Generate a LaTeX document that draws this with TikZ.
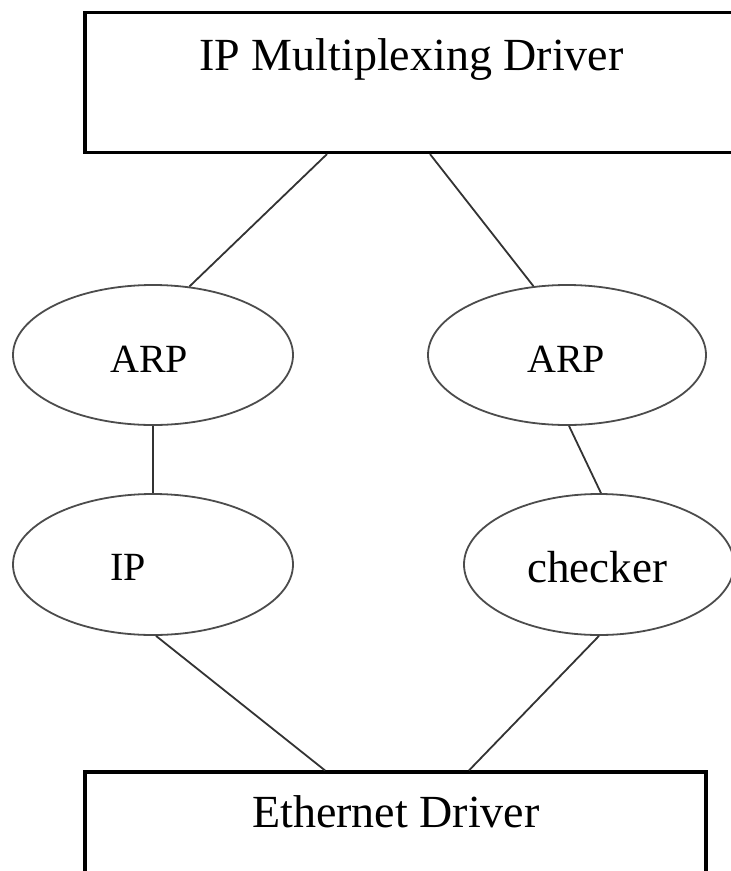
\documentclass[tikz,border=0pt]{standalone}
\usepackage{fontspec}
\setmainfont{Liberation Serif}
\usetikzlibrary{shapes.geometric}
\tikzset{
  boxshape/.style={draw=black, line width=3.2pt, rectangle, inner sep=0pt},
  ovalshape/.style={draw=black!70, line width=1.8pt, ellipse, inner sep=0pt},
  bigtext/.style={inner sep=0pt, anchor=base, font=\fontsize{46}{50}\selectfont},
  smalltext/.style={inner sep=0pt, anchor=base west, font=\fontsize{40}{44}\selectfont},
  wire/.style={draw=black!80, line width=1.8pt}
}
\begin{document}
\begin{tikzpicture}[x=1pt, y=-1pt]
\useasboundingbox (0,0) rectangle (731,871);
\clip (0,0) rectangle (731,871);
% boxes
\node[boxshape, minimum width=660pt, minimum height=140pt] (top) at (415,82.5) {};
\node[bigtext] (toptext) at (411.5,70) {IP Multiplexing Driver};
\node[boxshape, minimum width=621pt, minimum height=200pt] (eth) at (395.5,872) {};
\node[bigtext] (ethtext) at (396,827) {Ethernet Driver};
% ellipses
\node[ovalshape, minimum width=280pt, minimum height=140pt] (larp) at (153,355) {};
\node[ovalshape, minimum width=278pt, minimum height=140pt] (rarp) at (567,355) {};
\node[ovalshape, minimum width=280pt, minimum height=141pt] (ip) at (153,564.5) {};
\node[ovalshape, minimum width=270pt, minimum height=141pt] (chk) at (599,564.5) {};
% ellipse texts
\node[smalltext] (larptext) at (110,372) {ARP};
\node[smalltext] (rarptext) at (527,372) {ARP};
\node[smalltext] (iptext) at (110,580) {IP};
\node[smalltext, font=\fontsize{45}{48}\selectfont] (chktext) at (527,582) {checker};
% connectors
\draw[wire] ([xshift=-88pt]top.south) -- (larp.62);
\draw[wire] ([xshift=15pt]top.south) -- (rarp.116);
\draw[wire] (larp.south) -- (ip.north);
\draw[wire] ([xshift=2pt]rarp.south) -- ([xshift=2pt]chk.north);
\draw[wire] ([xshift=3pt]ip.south) -- ([xshift=-70.5pt]eth.north);
\draw[wire] (chk.south) -- ([xshift=73.5pt]eth.north);
\end{tikzpicture}
\end{document}
